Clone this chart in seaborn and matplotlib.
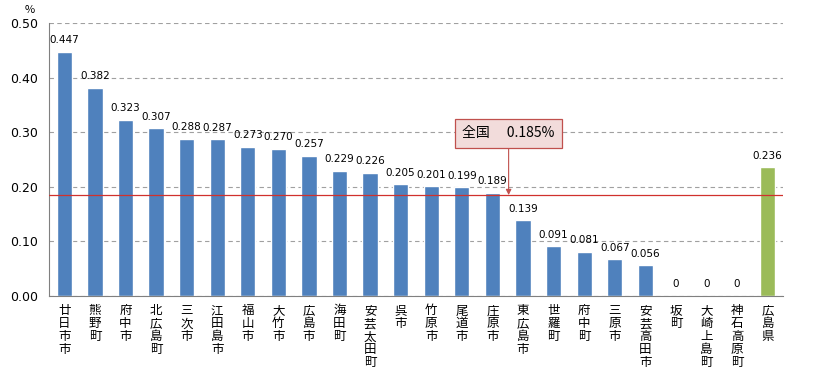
import matplotlib
matplotlib.use("Agg")
import matplotlib.pyplot as plt
import seaborn as sns
import pandas as pd
import numpy as np

# Data
municipalities = ["廿日市市", "熊野町", "府中市", "北広島町", "三次市", "江田島市", "福山市",
                  "大竹市", "広島市", "海田町", "安芸太田町", "呉市", "竹原市", "尾道市",
                  "庄原市", "東広島市", "世羅町", "府中町", "三原市", "安芸高田市", "坂町",
                  "大崎上島町", "神石高原町", "広島県"]
rates = [0.447, 0.382, 0.323, 0.307, 0.288, 0.287, 0.273, 0.270, 0.257, 0.229, 0.226,
         0.205, 0.201, 0.199, 0.189, 0.139, 0.091, 0.081, 0.067, 0.056, 0, 0, 0, 0.236]
value_labels = ["0.447", "0.382", "0.323", "0.307", "0.288", "0.287", "0.273", "0.270",
                "0.257", "0.229", "0.226", "0.205", "0.201", "0.199", "0.189", "0.139",
                "0.091", "0.081", "0.067", "0.056", "0", "0", "0", "0.236"]
national_rate = 0.185

df = pd.DataFrame({"name": municipalities, "rate": rates})
colors = ["#4f81bd"] * (len(municipalities) - 1) + ["#9bbb59"]

sns.set_style("white")
plt.rcParams["font.family"] = ["Noto Sans CJK JP", "DejaVu Sans"]
plt.rcParams["text.color"] = "black"
plt.rcParams["xtick.color"] = "black"
plt.rcParams["ytick.color"] = "black"

fig = plt.figure(figsize=(8.13, 3.79), dpi=100)
ax = fig.add_axes([0.0603, 0.219, 0.9027, 0.72])

sns.barplot(data=df, x="name", y="rate", hue="name", palette=colors, legend=False,
            width=0.5, saturation=1, ax=ax)

ax.set_ylim(0, 0.5)
ax.set_xlim(-0.5, len(municipalities) - 0.5)
ax.set_yticks(np.arange(0, 0.51, 0.1))
ax.set_yticklabels([f"{v:.2f}" for v in np.arange(0, 0.51, 0.1)], fontsize=9,
                   family="DejaVu Sans")
ax.yaxis.grid(True, linestyle=(0, (4, 3)), color="#a0a0a0", linewidth=0.8)
ax.set_axisbelow(True)
ax.set_xlabel("")
ax.set_ylabel("")

# vertical stacked labels
ax.set_xticks(range(len(municipalities)))
ax.set_xticklabels(["\n".join(n) for n in municipalities], fontsize=9, linespacing=1.0,
                   va="top")
ax.tick_params(axis="x", which="major", length=0, pad=6)
ax.set_xticks(np.arange(0.5, len(municipalities) - 0.5, 1), minor=True)
ax.tick_params(axis="x", which="minor", length=4, color="#808080", direction="out")
ax.tick_params(axis="y", length=0, pad=8)

for side in ["top", "right"]:
    ax.spines[side].set_visible(False)
for side in ["left", "bottom"]:
    ax.spines[side].set_color("#808080")

# value labels
for i, (v, lab) in enumerate(zip(rates, value_labels)):
    ax.text(i, v + 0.012, lab, ha="center", va="bottom", fontsize=7.5,
            family="DejaVu Sans")

# national average line and callout
ax.axhline(national_rate, color="#d0312d", linewidth=0.9, zorder=3)
ax.annotate("全国　 0.185%", xy=(14.53, national_rate), xytext=(14.53, 0.298),
            ha="center", va="center", fontsize=10,
            bbox=dict(boxstyle="square,pad=0.55", fc="#f2dcdb", ec="#c0504d", lw=0.9),
            arrowprops=dict(arrowstyle="-|>", color="#c0504d", lw=0.8,
                            mutation_scale=8, shrinkA=0, shrinkB=0), zorder=5)

ax.text(-0.02, 1.03, "%", transform=ax.transAxes, ha="right", va="bottom", fontsize=8)

plt.savefig("out.png", dpi=100)
